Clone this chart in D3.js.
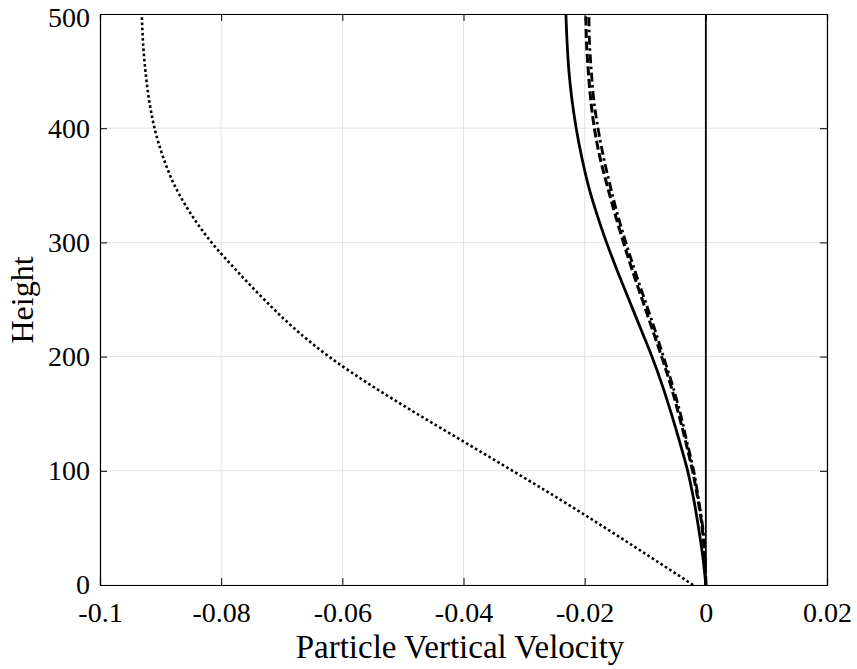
<!DOCTYPE html>
<html lang="en">
  <head>
    <meta charset="UTF-8">
    <script src="https://d3js.org/d3.v7.min.js"></script>
    <title>Particle Vertical Velocity</title>
    <style>
      body { margin: 0; background: #fff; }
      svg text { font-family: "Liberation Serif", "Times New Roman", serif; fill: #000; }
    </style>
  </head>
  <body>
    <div id="chart"></div>
    <script>
      // heights the profiles were read at
      const heights = [0, 25, 50, 75, 100, 125, 150, 175, 200, 225, 250, 275, 300, 325, 350, 375, 400, 425, 450, 475, 500];

      // velocity profiles, one value per height
      const dottedVel = [-0.0021, -0.0093, -0.0166, -0.0241, -0.0319, -0.0398, -0.0477, -0.0553, -0.0622, -0.0680, -0.0729,
                         -0.0774, -0.0816, -0.0850, -0.0877, -0.0896, -0.0910, -0.0919, -0.0925, -0.0929, -0.0931];
      const solidVel = [0, -0.0005, -0.0012, -0.0020, -0.0030, -0.0043, -0.0057, -0.0072, -0.0089, -0.0108, -0.0127,
                        -0.0146, -0.0164, -0.0180, -0.0194, -0.0205, -0.0214, -0.0221, -0.0226, -0.0229, -0.0231];
      const dashedVel = [0, -0.0002, -0.0006, -0.0013, -0.0022, -0.0033, -0.0045, -0.0058, -0.0073, -0.0089, -0.0105,
                         -0.0121, -0.0136, -0.0150, -0.0163, -0.0175, -0.0184, -0.0190, -0.0194, -0.0197, -0.0198];
      const dashDotVel = [0, -0.0001, -0.0005, -0.0012, -0.0020, -0.0031, -0.0042, -0.0055, -0.0070, -0.0085, -0.0101,
                          -0.0117, -0.0132, -0.0146, -0.0158, -0.0169, -0.0178, -0.0185, -0.0189, -0.0192, -0.0193];
      const zeroHeights = [0, 500];
      const zeroVel = [0, 0];

      const xTicks = [-0.1, -0.08, -0.06, -0.04, -0.02, 0, 0.02];
      const xTickLabels = ["-0.1", "-0.08", "-0.06", "-0.04", "-0.02", "0", "0.02"];
      const yTicks = [0, 100, 200, 300, 400, 500];
      const yTickLabels = ["0", "100", "200", "300", "400", "500"];

      const width = 857;
      const height = 669;
      const plotLeft = 100, plotRight = 827, plotTop = 14, plotBottom = 585;
      const tickLen = 7;

      const xScale = d3.scaleLinear().domain([-0.1, 0.02]).range([plotLeft, plotRight]);
      const yScale = d3.scaleLinear().domain([0, 500]).range([plotBottom, plotTop]);

      const svg = d3.select("#chart")
                    .append("svg")
                    .attr("width", width)
                    .attr("height", height);

      svg.append("rect")
         .attr("width", width).attr("height", height)
         .attr("fill", "#fff");

      // grid
      const grid = svg.append("g").attr("stroke", "#e3e3e3").attr("stroke-width", 1);
      grid.selectAll(".gx")
          .data(xTicks)
          .enter()
          .append("line")
          .attr("x1", d => xScale(d)).attr("x2", d => xScale(d))
          .attr("y1", plotTop).attr("y2", plotBottom);
      grid.selectAll(".gy")
          .data(yTicks)
          .enter()
          .append("line")
          .attr("y1", d => yScale(d)).attr("y2", d => yScale(d))
          .attr("x1", plotLeft).attr("x2", plotRight);

      // curves
      const series = [
        { hs: heights, vs: dottedVel, dash: "2.6,2.6", w: 2.6 },
        { hs: heights, vs: solidVel, dash: null, w: 2.8 },
        { hs: heights, vs: dashedVel, dash: "9,3.5", w: 3 },
        { hs: heights, vs: dashDotVel, dash: "9,3.5,2.5,3.5", w: 2.8 },
        { hs: zeroHeights, vs: zeroVel, dash: null, w: 1.8 }
      ];

      const line = d3.line()
                     .x(d => xScale(d[1]))
                     .y(d => yScale(d[0]))
                     .curve(d3.curveMonotoneY);

      const plot = svg.append("g");
      series.forEach(s => {
        const pts = s.hs.map((h, i) => [h, s.vs[i]]);
        plot.append("path")
            .attr("d", line(pts))
            .attr("fill", "none")
            .attr("stroke", "#000")
            .attr("stroke-width", s.w)
            .attr("stroke-dasharray", s.dash);
      });

      // axes
      const xAxis = d3.axisBottom(xScale)
                      .tickValues(xTicks)
                      .tickFormat((d, i) => xTickLabels[i])
                      .tickSize(-tickLen)
                      .tickPadding(17);
      const yAxis = d3.axisLeft(yScale)
                      .tickValues(yTicks)
                      .tickFormat((d, i) => yTickLabels[i])
                      .tickSize(-tickLen)
                      .tickPadding(10);
      const xTop = d3.axisTop(xScale).tickValues(xTicks).tickFormat("").tickSize(-tickLen);
      const yRight = d3.axisRight(yScale).tickValues(yTicks).tickFormat("").tickSize(-tickLen);

      const styleAxis = g => {
        g.selectAll("path").attr("stroke", "#000").attr("stroke-width", 1.2);
        g.selectAll("line").attr("stroke", "#000").attr("stroke-width", 1);
        g.selectAll("text").attr("font-family", "Liberation Serif").attr("font-size", 28).attr("fill", "#000");
      };

      svg.append("g")
         .attr("transform", "translate(0," + plotBottom + ")")
         .call(xAxis).call(styleAxis);
      const yAxisG = svg.append("g")
         .attr("transform", "translate(" + plotLeft + ",0)")
         .call(yAxis).call(styleAxis);
      // top label sits a little lower so it stays inside the picture
      yAxisG.selectAll(".tick text").filter(d => d === 500).attr("dy", "0.45em");
      svg.append("g")
         .attr("transform", "translate(0," + plotTop + ")")
         .call(xTop).call(styleAxis);
      svg.append("g")
         .attr("transform", "translate(" + plotRight + ",0)")
         .call(yRight).call(styleAxis);

      // labels
      svg.append("text")
         .attr("x", 460)
         .attr("y", 658)
         .attr("text-anchor", "middle")
         .attr("font-size", 33)
         .text("Particle Vertical Velocity");

      svg.append("text")
         .attr("transform", "translate(33," + 300 + ") rotate(-90)")
         .attr("text-anchor", "middle")
         .attr("font-size", 32)
         .text("Height");
    </script>
  </body>
</html>
